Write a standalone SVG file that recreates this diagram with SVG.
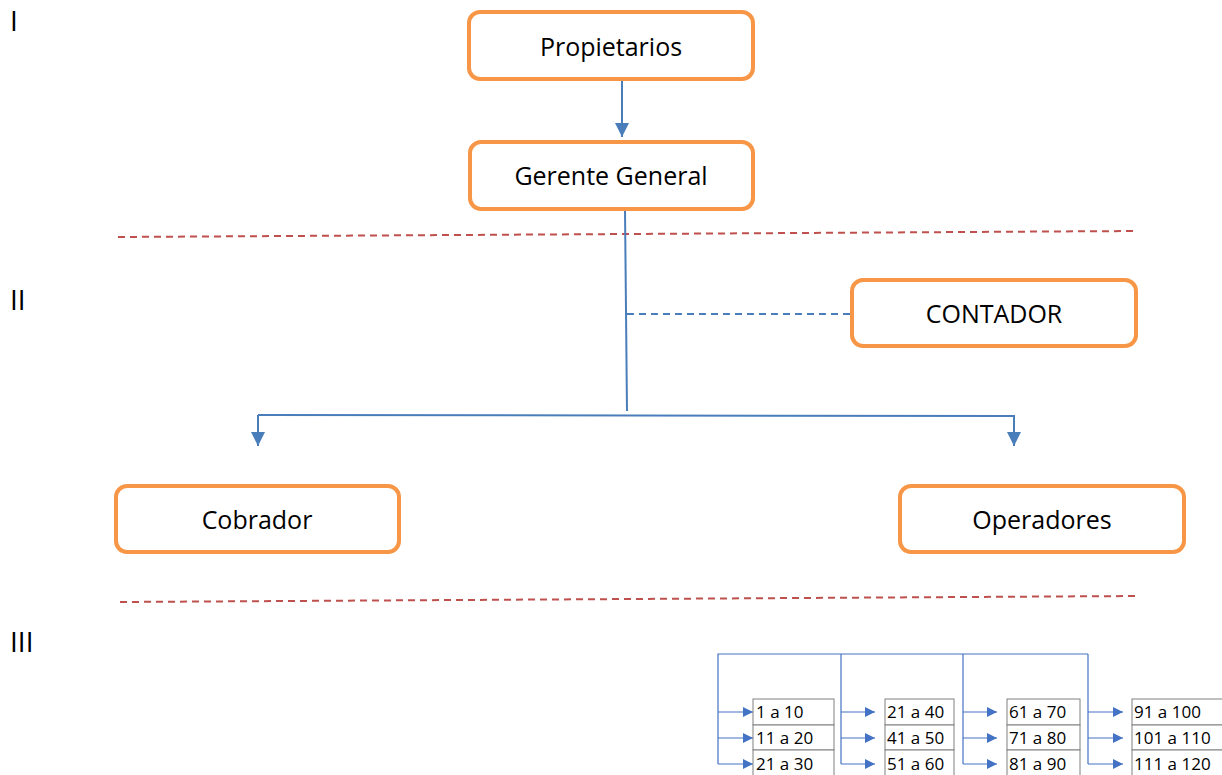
<svg xmlns="http://www.w3.org/2000/svg" width="1222" height="775" viewBox="0 0 1222 775">
<defs>
<marker id="ah" viewBox="0 0 10 10" refX="10" refY="5" markerWidth="10" markerHeight="10" markerUnits="userSpaceOnUse" orient="auto">
<path d="M0,0 L10,5 L0,10 z" fill="#4472C4"/>
</marker>
<marker id="ahb" viewBox="0 0 10 10" refX="10" refY="5" markerWidth="15" markerHeight="14" markerUnits="userSpaceOnUse" orient="auto">
<path d="M0,0 L10,5 L0,10 z" fill="#4A7EBB"/>
</marker>
</defs>
<style>
.box{fill:#fff;stroke:#F79646;stroke-width:4}
.lbl{font-family:"Open Sans","Liberation Sans",sans-serif;font-size:25px;fill:#000;text-anchor:middle}
.rom{font-family:"Open Sans","Liberation Sans",sans-serif;font-size:28px;fill:#000}
.ln{stroke:#4A7EBB;stroke-width:2;fill:none}
.thin{stroke:#4472C4;stroke-width:1.2;fill:none}
.sep{stroke:#C0504D;stroke-width:2;stroke-dasharray:7 5;fill:none}
.cell{fill:#fff;stroke:#808080;stroke-width:1}
.tt{font-family:"Open Sans","Liberation Sans",sans-serif;font-size:17px;fill:#000}
</style>
<g id="romans">
<text class="rom" x="10" y="31">I</text>
<text class="rom" x="10" y="310">II</text>
<text class="rom" x="10" y="652">III</text>
</g>
<g id="separators">
<line class="sep" x1="118" y1="237" x2="1136" y2="231"/>
<line class="sep" x1="120" y1="602" x2="1138" y2="596"/>
</g>
<g id="connectors">
<line class="ln" x1="622" y1="80" x2="622" y2="137" marker-end="url(#ahb)"/>
<line class="ln" x1="625" y1="210" x2="627" y2="411"/>
<line class="ln" x1="627" y1="314" x2="852" y2="314" stroke-dasharray="7 5"/>
<polyline class="ln" points="258,415 1014,416 1014,446" marker-end="url(#ahb)"/>
<line class="ln" x1="258" y1="415" x2="258" y2="446" marker-end="url(#ahb)"/>
<polyline class="thin" points="718,764 718,654 1088,654"/>
<line class="thin" x1="841" y1="654" x2="841" y2="764"/>
<line class="thin" x1="963" y1="654" x2="963" y2="764"/>
<line class="thin" x1="1088" y1="654" x2="1088" y2="764"/>
<line class="thin" x1="718" y1="712" x2="753" y2="712" marker-end="url(#ah)"/>
<line class="thin" x1="718" y1="738" x2="753" y2="738" marker-end="url(#ah)"/>
<line class="thin" x1="718" y1="764" x2="753" y2="764" marker-end="url(#ah)"/>
<line class="thin" x1="841" y1="712" x2="875" y2="712" marker-end="url(#ah)"/>
<line class="thin" x1="841" y1="738" x2="875" y2="738" marker-end="url(#ah)"/>
<line class="thin" x1="841" y1="764" x2="875" y2="764" marker-end="url(#ah)"/>
<line class="thin" x1="963" y1="712" x2="997" y2="712" marker-end="url(#ah)"/>
<line class="thin" x1="963" y1="738" x2="997" y2="738" marker-end="url(#ah)"/>
<line class="thin" x1="963" y1="764" x2="997" y2="764" marker-end="url(#ah)"/>
<line class="thin" x1="1088" y1="712" x2="1123" y2="712" marker-end="url(#ah)"/>
<line class="thin" x1="1088" y1="738" x2="1123" y2="738" marker-end="url(#ah)"/>
<line class="thin" x1="1088" y1="764" x2="1123" y2="764" marker-end="url(#ah)"/>
</g>
<g id="propietarios">
<rect class="box" x="469" y="12" width="284" height="67" rx="11"/>
<text class="lbl" x="611" y="56">Propietarios</text>
</g>
<g id="gerente">
<rect class="box" x="470" y="142" width="283" height="67" rx="11"/>
<text class="lbl" x="611" y="185">Gerente General</text>
</g>
<g id="contador">
<rect class="box" x="852" y="280" width="284" height="66" rx="11"/>
<text class="lbl" x="994" y="323">CONTADOR</text>
</g>
<g id="cobrador">
<rect class="box" x="116" y="486" width="283" height="66" rx="11"/>
<text class="lbl" x="257" y="529">Cobrador</text>
</g>
<g id="operadores">
<rect class="box" x="900" y="486" width="284" height="66" rx="11"/>
<text class="lbl" x="1042" y="529">Operadores</text>
</g>
<g id="table1">
<rect class="cell" x="753" y="699" width="81" height="26"/>
<rect class="cell" x="753" y="725" width="81" height="25"/>
<rect class="cell" x="753" y="750" width="81" height="30"/>
<text class="tt" x="756" y="718">1 a 10</text>
<text class="tt" x="756" y="744">11 a 20</text>
<text class="tt" x="756" y="770">21 a 30</text>
</g>
<g id="table2">
<rect class="cell" x="885" y="699" width="69" height="26"/>
<rect class="cell" x="885" y="725" width="69" height="25"/>
<rect class="cell" x="885" y="750" width="69" height="30"/>
<text class="tt" x="887" y="718">21 a 40</text>
<text class="tt" x="887" y="744">41 a 50</text>
<text class="tt" x="887" y="770">51 a 60</text>
</g>
<g id="table3">
<rect class="cell" x="1007" y="699" width="73" height="26"/>
<rect class="cell" x="1007" y="725" width="73" height="25"/>
<rect class="cell" x="1007" y="750" width="73" height="30"/>
<text class="tt" x="1009" y="718">61 a 70</text>
<text class="tt" x="1009" y="744">71 a 80</text>
<text class="tt" x="1009" y="770">81 a 90</text>
</g>
<g id="table4">
<rect class="cell" x="1132" y="699" width="100" height="26"/>
<rect class="cell" x="1132" y="725" width="100" height="25"/>
<rect class="cell" x="1132" y="750" width="100" height="30"/>
<text class="tt" x="1134" y="718">91 a 100</text>
<text class="tt" x="1134" y="744">101 a 110</text>
<text class="tt" x="1134" y="770">111 a 120</text>
</g>
</svg>
